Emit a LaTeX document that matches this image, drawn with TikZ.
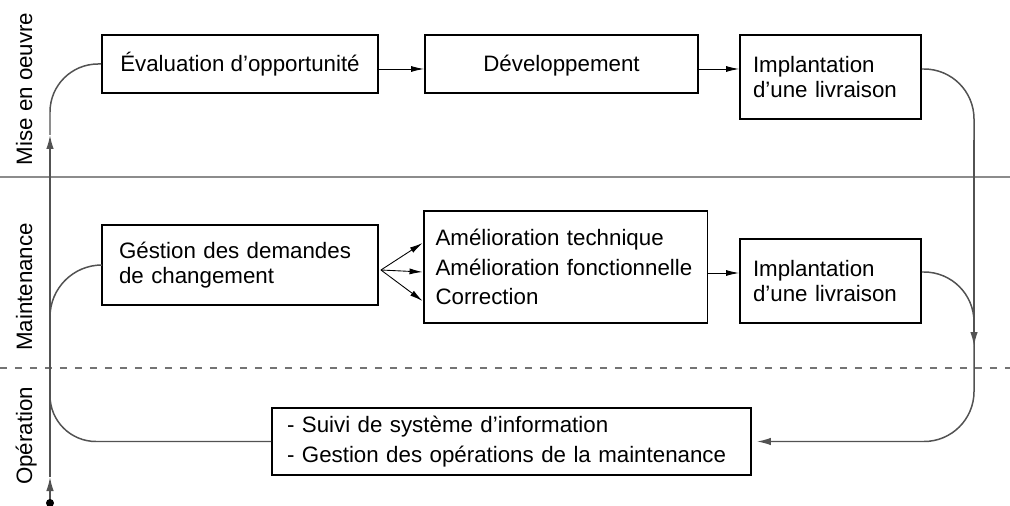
\documentclass[tikz,border=0pt]{standalone}
\usepackage{fontspec}
\setmainfont{Liberation Sans}
\usetikzlibrary{positioning,calc,arrows.meta}

\tikzset{
  boite/.style={draw, line width=1.1pt},
  gauche/.style={align=left, text width=#1},
  ligne/.style={text height=1.1em, text depth=0.2em},
  fleche/.style={line width=0.5pt, -{Latex[length=2.6mm,width=1.2mm]}},
  flux/.style={draw=black!68, line width=0.85pt},
  fluxfl/.style={flux, -{Latex[length=2.8mm,width=1.5mm]}},
}

\begin{document}
\begin{tikzpicture}[x=0.02cm, y=-0.02cm, font=\fontsize{12.7}{14.6}\selectfont]
    \useasboundingbox (0,0) rectangle (1010,506);

    % Phases
    \draw[black!45, line width=0.6pt] (0,177) -- (1010,177);
    \draw[black!55, line width=0.6pt, dash pattern=on 0.15cm off 0.15cm] (0,368) -- (1010,368);
    \node[rotate=90, anchor=base] (mise) at (32,89) {Mise en oeuvre};
    \node[rotate=90, anchor=base] (maint) at (32,287) {Maintenance};
    \node[rotate=90, anchor=base] (oper-l) at (32,436) {Opération};

    % Mise en oeuvre
    \node[boite, ligne, minimum width=5.52cm, minimum height=1.16cm] (eval) at (240,64) {Évaluation d’opportunité};
    \node[boite, ligne, minimum width=5.46cm, minimum height=1.16cm] (dev) at (561.5,64) {Développement};
    \node[boite, gauche=3.1cm, inner xsep=0.26cm, minimum height=1.68cm] (impl1) at (830.5,77) {Implantation\\d’une livraison};

    % Maintenance
    \node[boite, gauche=4.84cm, inner xsep=0.34cm, minimum height=1.6cm] (gest) at (240,265) {Géstion des demandes\\de changement};
    \node[boite, gauche=5.2cm, inner xsep=0.24cm, minimum height=2.24cm,
          font=\fontsize{12.7}{17}\selectfont] (amel) at (565.5,267)
          {Amélioration technique\\Amélioration fonctionnelle\\Correction};
    \node[boite, gauche=3.1cm, inner xsep=0.26cm, minimum height=1.68cm] (impl2) at (830.5,281) {Implantation\\d’une livraison};

    % Operation
    \node[boite, gauche=8.98cm, inner xsep=0.3cm, minimum height=1.34cm,
          font=\fontsize{12.7}{17}\selectfont] (oper) at (511.5,441.5)
          {- Suivi de système d’information\\- Gestion des opérations de la maintenance};

    % Fleches entre les etapes
    \draw[fleche] ([yshift=-0.1cm]eval.east) -- ([yshift=-0.1cm]eval.east -| dev.west);
    \draw[fleche] ([yshift=-0.1cm]dev.east) -- ([yshift=-0.1cm]dev.east -| impl1.west);
    \foreach \dy in {0.48,-0.1,-0.68}
        \draw[fleche] ([xshift=0.04cm,yshift=-0.1cm]gest.east) -- ([yshift=\dy cm]amel.west);
    \draw[fleche] ([yshift=-0.12cm]amel.east) -- ([yshift=-0.12cm]amel.east -| impl2.west);

    % Cycle gauche
    \coordinate (depart) at (50,503);
    \coordinate (g1) at (50,477);
    \coordinate (g2) at (50,135);
    \coordinate (j1) at (50,330);
    \coordinate (j2) at (50,385);
    \draw[fluxfl] (depart) -- (g1);
    \draw[fluxfl] (g1) -- (g2);
    \draw[flux, rounded corners=0.96cm] (g2) |- (eval.west);
    \fill[black] (depart) circle (0.08cm);
    \draw[flux, rounded corners=1.04cm] (gest.west) -| (j1);
    \draw[flux, rounded corners=0.92cm] (oper.west) -| (j2);

    % Cycle droit
    \coordinate (d1) at (974,140);
    \coordinate (d2) at (974,346);
    \draw[flux, rounded corners=1cm] ([yshift=0.16cm]impl1.east) -| (d1);
    \draw[fluxfl] (d1) -- (d2);
    \draw[flux, rounded corners=1cm] ([yshift=0.18cm]impl2.east) -| (d2);
    \draw[fluxfl, rounded corners=1cm] (d2) |- ([xshift=0.1cm]oper.east);
\end{tikzpicture}
\end{document}
